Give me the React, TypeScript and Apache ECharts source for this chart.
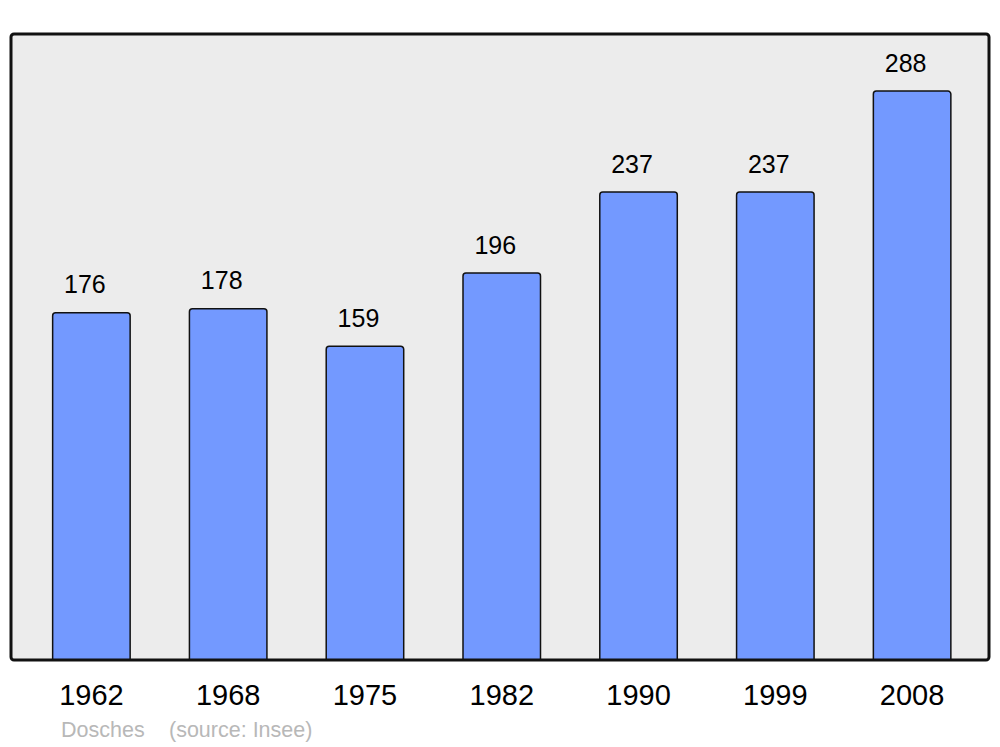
import React, { useEffect, useRef } from "react";
import * as echarts from "echarts";

const years = ["1962", "1968", "1975", "1982", "1990", "1999", "2008"];
const population = [176, 178, 159, 196, 237, 237, 288];
const footerName = "Dosches";
const footerSource = "(source: Insee)";

export default function App() {
  const ref = useRef<HTMLDivElement>(null);
  useEffect(() => {
    if (!ref.current) return;
    const chart = echarts.init(ref.current, null, { renderer: "svg" });
    chart.setOption({
      animation: false,
      backgroundColor: "#ffffff",
      textStyle: { fontFamily: "Liberation Sans, Arial, sans-serif" },
      grid: { left: 23, right: 19.5, top: 34, bottom: 87 },
      xAxis: {
        type: "category",
        data: years,
        axisLine: { show: false },
        axisTick: { show: false },
        axisLabel: { color: "#000", fontSize: 29, margin: 20, offset: 0 },
      },
      yAxis: {
        type: "value",
        min: 0,
        max: 316.5,
        show: false,
        splitLine: { show: false },
      },
      graphic: [
        {
          type: "rect",
          z: -10,
          shape: { x: 11, y: 34, width: 978, height: 626, r: 3 },
          style: { fill: "#ececec", stroke: "#111111", lineWidth: 3 },
        },
        {
          type: "text",
          x: 61,
          y: 730,
          style: {
            text: footerName,
            fill: "#b8b8b8",
            fontSize: 21.5,
            fontFamily: "Liberation Sans, Arial, sans-serif",
            verticalAlign: "middle",
          },
        },
        {
          type: "text",
          x: 169,
          y: 730,
          style: {
            text: footerSource,
            fill: "#b8b8b8",
            fontSize: 21.5,
            fontFamily: "Liberation Sans, Arial, sans-serif",
            verticalAlign: "middle",
          },
        },
      ],
      series: [
        {
          type: "bar",
          data: population,
          barWidth: 79,
          itemStyle: {
            color: "#7399ff",
            borderColor: "#111111",
            borderWidth: 1.5,
            borderRadius: [3, 3, 0, 0],
          },
          label: {
            show: true,
            position: "top",
            distance: 15,
            offset: [-6.5, 0],
            color: "#000",
            fontSize: 25,
          },
        },
      ],
    });
    return () => chart.dispose();
  }, []);
  return (
    <div
      ref={ref}
      style={{ position: "fixed", left: 0, top: 0, width: 1000, height: 747 }}
    />
  );
}
